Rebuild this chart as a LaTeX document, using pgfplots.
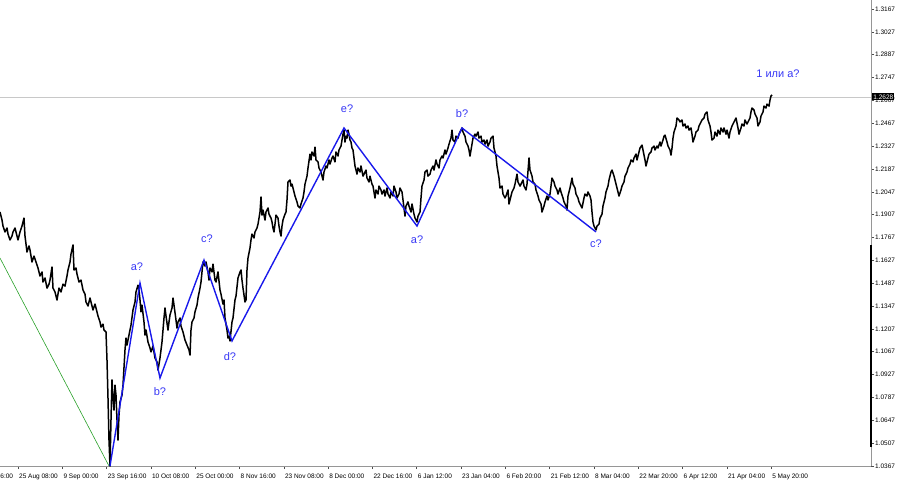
\documentclass[border=0pt]{standalone}
\usepackage{fontspec}
\setmainfont{Liberation Sans}
\usepackage{pgfplots}
\pgfplotsset{compat=1.18}
\definecolor{wave}{RGB}{25,25,235}
\definecolor{wavetxt}{RGB}{55,55,245}
\definecolor{axgray}{RGB}{150,150,150}
\definecolor{bidgray}{RGB}{200,200,200}
\definecolor{grn}{RGB}{40,160,40}
\newcommand{\tickfont}{\fontsize{6.5}{7}\selectfont}
\begin{document}
\begin{tikzpicture}
\path[use as bounding box] (0,-19pt) rectangle (900pt,466pt);
\begin{axis}[
  scale only axis, width=871pt, height=466pt,
  xmin=0, xmax=871, ymin=1.0367, ymax=1.3222,
  axis x line=bottom, axis y line=right,
  axis line style={-, axgray, line width=1pt},
  clip=false,
  tick align=outside, major tick length=3pt,
  tick style={black!70, line width=0.5pt},
  xtick={18.0,62.3,106.6,150.9,195.2,239.5,283.8,328.1,372.4,416.7,461.0,505.3,549.6,593.9,638.2,682.5,726.8,771.1},
  xticklabels={25 Aug 08:00,9 Sep 00:00,23 Sep 16:00,10 Oct 08:00,25 Oct 00:00,8 Nov 16:00,23 Nov 08:00,8 Dec 00:00,22 Dec 16:00,6 Jan 12:00,23 Jan 04:00,6 Feb 20:00,21 Feb 12:00,8 Mar 04:00,22 Mar 20:00,6 Apr 12:00,21 Apr 04:00,5 May 20:00},
  xticklabel style={font=\tickfont, anchor=north west, inner sep=0pt, xshift=1pt, yshift=-5pt},
  ytick={1.0367,1.0507,1.0647,1.0787,1.0927,1.1067,1.1207,1.1347,1.1487,1.1627,1.1767,1.1907,1.2047,1.2187,1.2327,1.2467,1.2607,1.2747,1.2887,1.3027,1.3167},
  yticklabels={1.0367,1.0507,1.0647,1.0787,1.0927,1.1067,1.1207,1.1347,1.1487,1.1627,1.1767,1.1907,1.2047,1.2187,1.2327,1.2467,1.2607,1.2747,1.2887,1.3027,1.3167},
  yticklabel style={font=\tickfont, anchor=west, inner sep=0pt, xshift=1pt},
]
% bid line
\addplot[bidgray, line width=0.8pt] coordinates {(0,1.2628) (871,1.2628)};
% green line
\addplot[grn, line width=0.6pt] coordinates {(0,1.1641) (109,1.0367)};
% price
\addplot[black, line width=1.5pt, line join=round] coordinates {
(0,1.1923) (2,1.1874) (3,1.1837) (5,1.1801) (7,1.1825) (8,1.1788) (10,1.1752) (12,1.1776) (13,1.1801) (15,1.1825)
(17,1.1776) (18,1.1752) (20,1.1801) (22,1.1837) (24,1.1886) (25,1.1776) (27,1.1678) (29,1.1715) (30,1.1690) (32,1.1617)
(34,1.1653) (36,1.1617) (38,1.1580) (40,1.1531) (42,1.1556) (43,1.1494) (45,1.1519) (47,1.1457) (49,1.1481) (50,1.1506)
(52,1.1586) (53,1.1457) (55,1.1433) (57,1.1384) (59,1.1457) (61,1.1433) (63,1.1481) (65,1.1469) (67,1.1531) (68,1.1568)
(70,1.1617) (71,1.1665) (73,1.1721) (74,1.1568) (76,1.1580) (77,1.1543) (79,1.1494) (81,1.1506) (83,1.1445) (85,1.1420)
(86,1.1372) (88,1.1347) (90,1.1396) (92,1.1347) (93,1.1323) (95,1.1359) (97,1.1311) (98,1.1286) (100,1.1249) (101,1.1218)
(103,1.1236) (104,1.1200) (106,1.1188) (107,1.1016) (108,1.0783) (109,1.0526) (110,1.0367) (111,1.0649) (112,1.0894) (113,1.0783)
(114,1.0710) (115,1.0863) (116,1.0801) (117,1.0649) (118,1.0526) (119,1.0679) (120,1.0759) (122,1.0801) (123,1.0863) (125,1.1078)
(126,1.1151) (127,1.1108) (128,1.1139) (130,1.1200) (131,1.1230) (133,1.1323) (135,1.1372) (136,1.1433) (138,1.1475) (139,1.1445)
(140,1.1384) (141,1.1311) (142,1.1353) (144,1.1249) (145,1.1169) (146,1.1200) (148,1.1127) (150,1.1090) (151,1.1066) (153,1.1102)
(155,1.1029) (157,1.1004) (158,1.0955) (160,1.1029) (161,1.1078) (162,1.1127) (163,1.1200) (164,1.1274) (165,1.1335) (166,1.1286)
(168,1.1200) (169,1.1249) (170,1.1292) (172,1.1335) (173,1.1396) (174,1.1353) (176,1.1261) (177,1.1212) (178,1.1249) (180,1.1274)
(181,1.1224) (183,1.1188) (185,1.1139) (187,1.1108) (189,1.1078) (190,1.1047) (191,1.1200) (192,1.1249) (194,1.1274) (195,1.1311)
(197,1.1353) (198,1.1396) (200,1.1457) (201,1.1494) (202,1.1556) (203,1.1617) (205,1.1592) (206,1.1617) (208,1.1556) (209,1.1506)
(210,1.1580) (212,1.1556) (213,1.1604) (215,1.1506) (216,1.1494) (218,1.1556) (220,1.1445) (221,1.1420) (223,1.1359) (224,1.1384)
(225,1.1274) (227,1.1200) (228,1.1151) (229,1.1163) (230,1.1133) (232,1.1249) (233,1.1274) (235,1.1384) (236,1.1408) (238,1.1519)
(240,1.1556) (241,1.1568) (242,1.1506) (243,1.1457) (245,1.1372) (246,1.1384) (247,1.1568) (248,1.1641) (250,1.1703) (251,1.1752)
(252,1.1788) (254,1.1764) (255,1.1801) (257,1.1825) (258,1.1849) (260,1.1923) (261,1.2015) (262,1.1904) (263,1.1935) (265,1.1874)
(266,1.1923) (268,1.1948) (269,1.1910) (271,1.1886) (272,1.1862) (273,1.1825) (274,1.1801) (275,1.1849) (276,1.1904) (278,1.1886)
(279,1.1837) (280,1.1801) (281,1.1776) (282,1.1837) (283,1.1874) (285,1.1910) (286,1.1923) (287,1.1997) (288,1.2107) (290,1.2119)
(291,1.2082) (292,1.2094) (294,1.2046) (295,1.2021) (297,1.1985) (298,1.1960) (300,1.1948) (301,1.1972) (303,1.2009) (304,1.2046)
(305,1.2094) (307,1.2143) (308,1.2193) (310,1.2278) (311,1.2242) (312,1.2291) (314,1.2266) (315,1.2321) (316,1.2242) (318,1.2230)
(319,1.2193) (321,1.2168) (322,1.2143) (323,1.2119) (324,1.2168) (326,1.2205) (327,1.2193) (329,1.2242) (330,1.2217) (332,1.2254)
(333,1.2266) (335,1.2230) (336,1.2291) (338,1.2266) (339,1.2303) (341,1.2327) (342,1.2364) (343,1.2400) (344,1.2425) (345,1.2352)
(346,1.2388) (347,1.2376) (348,1.2425) (349,1.2400) (350,1.2364) (351,1.2352) (352,1.2315) (353,1.2303) (355,1.2205) (356,1.2180)
(357,1.2155) (358,1.2193) (360,1.2168) (361,1.2205) (363,1.2143) (364,1.2155) (366,1.2180) (367,1.2131) (369,1.2107) (370,1.2143)
(372,1.2094) (373,1.2082) (375,1.2009) (376,1.2058) (378,1.2033) (379,1.2082) (381,1.2058) (382,1.2033) (384,1.2058) (385,1.2021)
(387,1.2070) (388,1.2033) (390,1.2009) (391,1.2046) (393,1.2021) (394,1.2082) (396,1.2046) (397,1.2009) (399,1.2033) (400,1.2070)
(402,1.2046) (403,1.1997) (405,1.1898) (406,1.1960) (408,1.1985) (409,1.1960) (411,1.1923) (412,1.1972) (414,1.1910) (415,1.1886)
(417,1.1862) (418,1.1898) (420,1.1923) (421,1.2009) (422,1.2082) (424,1.2119) (425,1.2168) (427,1.2180) (428,1.2143) (430,1.2155)
(431,1.2180) (433,1.2205) (434,1.2180) (436,1.2242) (437,1.2217) (439,1.2193) (440,1.2242) (442,1.2266) (443,1.2254) (445,1.2303)
(446,1.2278) (448,1.2315) (449,1.2339) (451,1.2376) (452,1.2425) (453,1.2364) (455,1.2352) (456,1.2388) (458,1.2376) (459,1.2400)
(461,1.2425) (462,1.2438) (463,1.2413) (465,1.2388) (466,1.2352) (468,1.2327) (469,1.2303) (470,1.2266) (472,1.2339) (473,1.2376)
(475,1.2400) (476,1.2388) (478,1.2413) (479,1.2376) (481,1.2388) (482,1.2352) (484,1.2364) (485,1.2339) (487,1.2364) (488,1.2327)
(490,1.2352) (491,1.2376) (493,1.2388) (494,1.2315) (496,1.2266) (497,1.2205) (499,1.2131) (500,1.2070) (502,1.2082) (503,1.2033)
(505,1.2009) (506,1.2021) (508,1.2058) (509,1.1972) (511,1.2021) (512,1.2046) (514,1.2070) (515,1.2094) (517,1.2155) (518,1.2107)
(520,1.2082) (521,1.2094) (523,1.2119) (524,1.2082) (526,1.2058) (527,1.2094) (529,1.2254) (530,1.2180) (532,1.2143) (533,1.2107)
(535,1.2094) (536,1.2058) (538,1.2021) (539,1.1997) (541,1.1972) (542,1.1923) (544,1.1960) (545,1.1985) (547,1.2021) (548,1.1997)
(550,1.2033) (551,1.2082) (552,1.2131) (554,1.2107) (555,1.2082) (557,1.2058) (558,1.2033) (560,1.2070) (561,1.2046) (563,1.2009)
(564,1.1985) (566,1.1960) (567,1.1935) (568,1.2021) (570,1.2070) (572,1.2131) (573,1.2094) (575,1.2070) (576,1.2033) (578,1.2009)
(579,1.1985) (581,1.1960) (582,1.1948) (584,1.2009) (585,1.2033) (587,1.2021) (588,1.2046) (590,1.2021) (591,1.1997) (592,1.1923)
(593,1.1862) (594,1.1837) (596,1.1813) (597,1.1837) (599,1.1849) (600,1.1886) (602,1.1910) (603,1.1960) (605,1.2009) (606,1.2046)
(608,1.2082) (609,1.2119) (611,1.2168) (612,1.2180) (614,1.2143) (615,1.2119) (617,1.2070) (618,1.2046) (619,1.2021) (621,1.2058)
(622,1.2082) (624,1.2107) (625,1.2143) (627,1.2168) (628,1.2193) (630,1.2217) (631,1.2242) (633,1.2230) (634,1.2254) (636,1.2278)
(637,1.2242) (639,1.2291) (640,1.2315) (642,1.2333) (643,1.2303) (645,1.2242) (646,1.2205) (648,1.2254) (649,1.2278) (651,1.2291)
(652,1.2315) (654,1.2327) (655,1.2303) (657,1.2327) (658,1.2315) (660,1.2352) (661,1.2327) (663,1.2364) (664,1.2388) (665,1.2394)
(667,1.2352) (668,1.2327) (670,1.2303) (671,1.2272) (672,1.2315) (673,1.2376) (674,1.2413) (676,1.2450) (677,1.2499) (679,1.2487)
(680,1.2475) (682,1.2487) (683,1.2450) (685,1.2462) (686,1.2438) (688,1.2450) (689,1.2425) (691,1.2438) (692,1.2400) (693,1.2352)
(695,1.2388) (696,1.2413) (698,1.2425) (699,1.2450) (701,1.2475) (702,1.2487) (704,1.2499) (705,1.2523) (707,1.2536) (708,1.2487)
(710,1.2450) (711,1.2413) (712,1.2364) (714,1.2376) (715,1.2413) (717,1.2388) (718,1.2425) (720,1.2400) (721,1.2438) (723,1.2413)
(724,1.2438) (726,1.2400) (727,1.2425) (729,1.2376) (730,1.2413) (732,1.2450) (733,1.2462) (735,1.2487) (736,1.2499) (738,1.2438)
(739,1.2400) (741,1.2438) (742,1.2462) (744,1.2450) (745,1.2487) (747,1.2462) (748,1.2475) (750,1.2499) (751,1.2536) (752,1.2560)
(754,1.2548) (755,1.2523) (757,1.2499) (758,1.2450) (760,1.2475) (761,1.2511) (763,1.2536) (764,1.2572) (766,1.2560) (767,1.2584)
(769,1.2572) (770,1.2609) (771,1.2634) (772,1.2640)
};
% waves
\addplot[wave, line width=1.4pt, line join=miter] coordinates {
(110,1.0367) (140,1.1488) (160,1.0906) (204,1.1629) (232,1.1133) (344,1.2438) (417,1.1837) (462,1.2438) (596,1.1801)
};
\begin{scope}[every node/.style={text=wavetxt, font=\fontsize{11}{13}\selectfont, inner sep=0pt}]
\node at (axis cs:137,1.1586) {a?};
\node at (axis cs:160,1.0826) {b?};
\node at (axis cs:207,1.1758) {c?};
\node at (axis cs:230,1.1035) {d?};
\node at (axis cs:347,1.2554) {e?};
\node at (axis cs:417,1.1752) {a?};
\node at (axis cs:462,1.2524) {b?};
\node at (axis cs:596,1.1727) {c?};
\node at (axis cs:778,1.2769) {1 или а?};
\end{scope}
\node[font=\tickfont, anchor=north west, inner sep=0pt, xshift=1pt, yshift=-8pt] at (axis cs:-26.3,1.0367) {11 Aug 16:00};
\coordinate (bid) at (axis cs:871,1.2628);
\coordinate (bs1) at (axis cs:871,1.1721);
\coordinate (bs2) at (axis cs:871,1.0483);
\end{axis}
\draw[black, line width=2pt] (bs1) -- (bs2);
\node[fill=black, text=white, anchor=west, inner sep=1.2pt, font=\tickfont, xshift=1pt] at (bid) {1.2628};
\end{tikzpicture}
\end{document}
